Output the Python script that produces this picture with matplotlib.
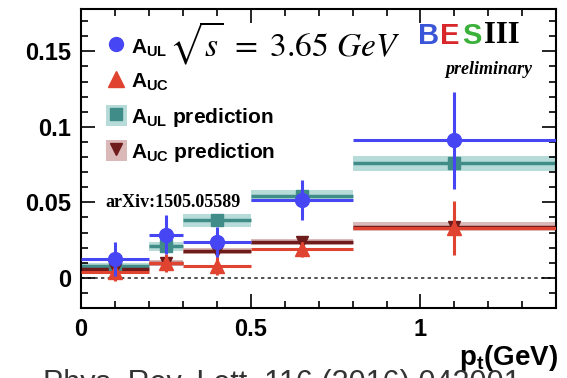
import matplotlib
matplotlib.use('Agg')
import matplotlib.pyplot as plt
from matplotlib.lines import Line2D
from matplotlib.patches import Patch
from matplotlib.ticker import MultipleLocator

plt.rcParams['font.family'] = ['Liberation Sans', 'DejaVu Sans']
plt.rcParams['mathtext.fontset'] = 'custom'
plt.rcParams['mathtext.bf'] = 'Liberation Sans:bold'
plt.rcParams['mathtext.rm'] = 'Liberation Sans:bold'

# bins in p_t (GeV)
bin_lo = [0.0, 0.2, 0.3, 0.5, 0.8]
bin_hi = [0.2, 0.3, 0.5, 0.8, 1.4]
pt = [0.1, 0.25, 0.4, 0.65, 1.1]

# measured asymmetries
aul = [0.0125, 0.0285, 0.024, 0.0515, 0.091]
aul_err = [0.011, 0.013, 0.010, 0.013, 0.032]
auc = [0.004, 0.010, 0.008, 0.019, 0.033]
auc_err = [0.006, 0.006, 0.006, 0.005, 0.018]

# model predictions
aul_pred = [0.008, 0.021, 0.038, 0.054, 0.076]
aul_pred_err = [0.002, 0.003, 0.004, 0.004, 0.005]
auc_pred = [0.006, 0.010, 0.018, 0.024, 0.034]
auc_pred_err = [0.002, 0.002, 0.002, 0.002, 0.003]

blue = '#4646f5'
red = '#e0432f'
teal = '#3f8c89'
teal_band = '#b6dbd8'
dred = '#6e1b1b'
dred_band = '#dcb9b9'

fig = plt.figure(figsize=(5.67, 3.78), dpi=100)
ax = fig.add_axes([0.143, 0.185, 0.838, 0.791])

xerr_lo = [p - lo for p, lo in zip(pt, bin_lo)]
xerr_hi = [hi - p for p, hi in zip(pt, bin_hi)]

# prediction bands + lines
for lo, hi, v, e in zip(bin_lo, bin_hi, aul_pred, aul_pred_err):
    ax.fill_between([lo, hi], v - e, v + e, color=teal_band, lw=0, zorder=1)
for lo, hi, v, e in zip(bin_lo, bin_hi, auc_pred, auc_pred_err):
    ax.fill_between([lo, hi], v - e, v + e, color=dred_band, lw=0, zorder=1)
ax.errorbar(pt, aul_pred, xerr=[xerr_lo, xerr_hi], fmt='s', color=teal, ms=9,
            elinewidth=2.5, capsize=0, zorder=2)
ax.errorbar(pt, auc_pred, xerr=[xerr_lo, xerr_hi], fmt='v', color=dred, ms=8,
            elinewidth=2.5, capsize=0, zorder=2)

# data
ax.errorbar(pt, auc, xerr=[xerr_lo, xerr_hi], yerr=auc_err, fmt='^', color=red,
            ms=10, elinewidth=2.2, capsize=0, zorder=3)
ax.errorbar(pt, aul, xerr=[xerr_lo, xerr_hi], yerr=aul_err, fmt='o', color=blue,
            ms=10, elinewidth=2.2, capsize=0, zorder=4)

ax.axhline(0, color='#333333', ls=(0, (2, 2)), lw=1.2, zorder=0)

ax.set_xlim(0, 1.4)
ax.set_ylim(-0.02, 0.178)
ax.xaxis.set_major_locator(MultipleLocator(0.5))
ax.xaxis.set_minor_locator(MultipleLocator(0.1))
ax.yaxis.set_major_locator(MultipleLocator(0.05))
ax.yaxis.set_minor_locator(MultipleLocator(0.01))
ax.tick_params(which='both', direction='in', top=True, right=True, width=1.2)
ax.tick_params(which='major', length=10, labelsize=17, pad=7)
ax.tick_params(which='minor', length=5)
for s in ax.spines.values():
    s.set_linewidth(1.5)

fmt = lambda v, p: '0' if abs(v) < 1e-9 else ('%g' % v)
ax.xaxis.set_major_formatter(plt.FuncFormatter(fmt))
ax.yaxis.set_major_formatter(plt.FuncFormatter(fmt))
for lab in ax.get_xticklabels() + ax.get_yticklabels():
    lab.set_fontweight('bold')

fig.text(0.985, 0.035, r'p$_{\mathbf{t}}$(GeV)', ha='right', va='baseline',
         fontsize=20, fontweight='bold')

# reference line, cut off at the bottom edge (as in the original)
fig.text(0.075, 0.024, 'Phys. Rev. Lett. 116 (2016) 042001', ha='left', va='top',
         fontsize=22, color='#333333')

handles = [
    Line2D([], [], color=blue, marker='o', ms=10, lw=0),
    Line2D([], [], color=red, marker='^', ms=11, lw=0),
    (Patch(facecolor=teal_band), Line2D([], [], color=teal, marker='s', ms=9, lw=0)),
    (Patch(facecolor=dred_band), Line2D([], [], color=dred, marker='v', ms=9, lw=0)),
]
labels = [r'A$_{\mathbf{UL}}$', r'A$_{\mathbf{UC}}$',
          r'A$_{\mathbf{UL}}$ prediction', r'A$_{\mathbf{UC}}$ prediction']
leg = ax.legend(handles, labels, loc='upper left', bbox_to_anchor=(0.035, 0.94),
                frameon=False, prop={'weight': 'bold', 'size': 15},
                handlelength=1.0, handleheight=1.2, handletextpad=0.2,
                labelspacing=0.55, borderaxespad=0)

fig.text(0.298, 0.885, r'$\sqrt{s}\ =\ 3.65\ GeV$', fontsize=24,
         math_fontfamily='stix', va='center')

# BESIII logo
fig.text(0.737, 0.905, 'B', color='#3a55d8', fontsize=21, fontweight='bold', va='center')
fig.text(0.776, 0.905, 'E', color='#d8262a', fontsize=21, fontweight='bold', va='center')
fig.text(0.815, 0.905, 'S', color='#3bb03b', fontsize=21, fontweight='bold', va='center')
fig.text(0.854, 0.905, 'III', color='black', fontsize=22, fontweight='bold',
         family='Liberation Serif', va='center')
fig.text(0.785, 0.815, 'preliminary', fontsize=13, fontweight='bold', style='italic',
         family='Liberation Serif', va='center')

fig.text(0.185, 0.463, 'arXiv:1505.05589', fontsize=13, fontweight='bold',
         family='Liberation Serif', va='center')

plt.savefig('out.png', dpi=100)
